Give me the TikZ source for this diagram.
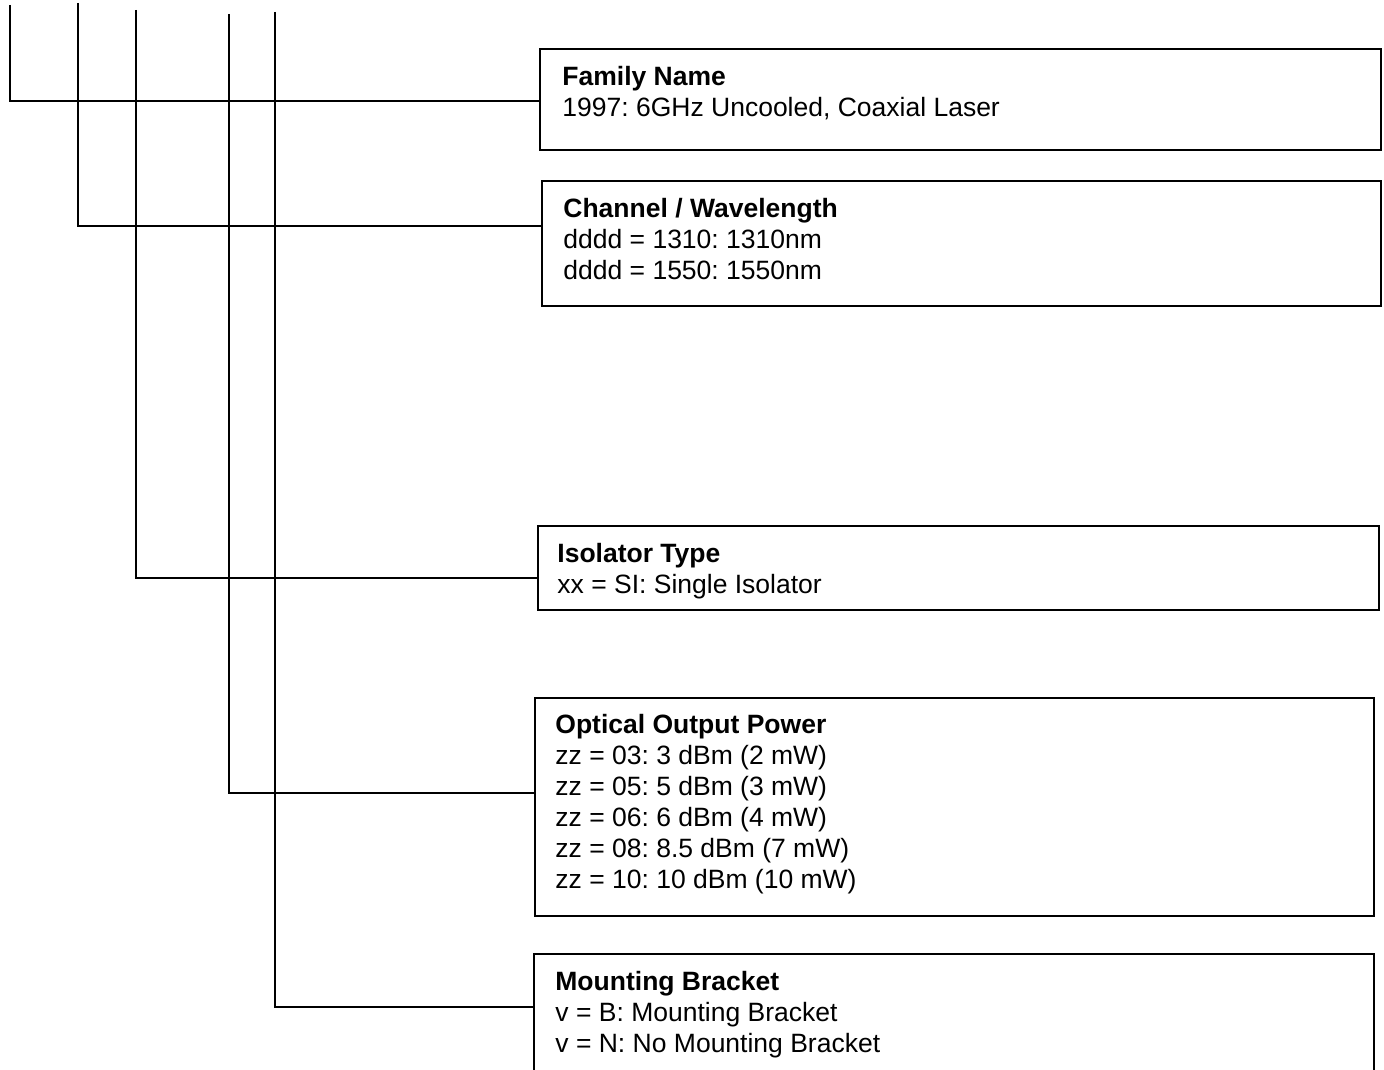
\documentclass[tikz,border=0pt]{standalone}
\usepackage{fontspec}
\setmainfont{Liberation Sans}
\usetikzlibrary{fit}
\tikzset{
  pbox/.style={draw, line width=1.1pt, inner sep=0pt},
  ptxt/.style={align=left, inner sep=0pt, anchor=base west,
    font=\fontsize{13.25pt}{15.5pt}\selectfont\frenchspacing},
  feed/.style={line width=1.1pt}
}
\begin{document}
\begin{tikzpicture}[x=0.5pt,y=-0.5pt]
\clip (0,0) rectangle (1384,1069);
% boxes
\node[pbox, fit={(540,49) (1381,150)}] (fam) {};
\node[pbox, fit={(542,181) (1381,306)}] (chan) {};
\node[pbox, fit={(538,526) (1379,610)}] (iso) {};
\node[pbox, fit={(535,698) (1374,916)}] (pow) {};
\node[pbox, fit={(534,954) (1374,1090)}] (brk) {};
% texts (placed at the baseline of the last line)
\node[ptxt] (famtxt) at (562,117) {\textbf{Family Name}\\1997: 6GHz Uncooled, Coaxial Laser};
\node[ptxt] (chantxt) at (563,279) {\textbf{Channel / Wavelength}\\dddd = 1310: 1310nm\\dddd = 1550: 1550nm};
\node[ptxt] (isotxt) at (557,593) {\textbf{Isolator Type}\\xx = SI: Single Isolator};
\node[ptxt] (powtxt) at (555,888) {\textbf{Optical Output Power}\\zz = 03: 3 dBm (2 mW)\\zz = 05: 5 dBm (3 mW)\\zz = 06: 6 dBm (4 mW)\\zz = 08: 8.5 dBm (7 mW)\\zz = 10: 10 dBm (10 mW)};
\node[ptxt] (brktxt) at (555,1052) {\textbf{Mounting Bracket}\\v = B: Mounting Bracket\\v = N: No Mounting Bracket};
% part code lines
\coordinate (tfam) at (10,5);
\coordinate (tchan) at (78,3);
\coordinate (tiso) at (136,10);
\coordinate (tpow) at (229,14);
\coordinate (tbrk) at (275,12);
\draw[feed] (tfam) |- (fam.west |- 0,101);
\draw[feed] (tchan) |- (chan.west |- 0,226);
\draw[feed] (tiso) |- (iso.west |- 0,578);
\draw[feed] (tpow) |- (pow.west |- 0,793);
\draw[feed] (tbrk) |- (brk.west |- 0,1007);
\end{tikzpicture}
\end{document}
